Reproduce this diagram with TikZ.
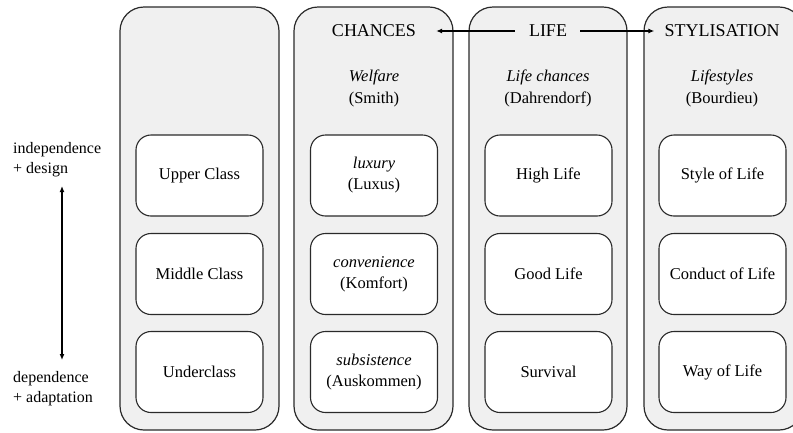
\documentclass[tikz,border=0pt]{standalone}
\usepackage{fontspec}
\setmainfont{Liberation Serif}
\usetikzlibrary{arrows.meta}
\definecolor{colfill}{HTML}{F0F0F0}
\definecolor{edge}{HTML}{2A2A2A}
\tikzset{
  column/.style={draw=edge, line width=1.2pt, fill=colfill, rounded corners=24pt},
  cell/.style={draw=edge, line width=1.1pt, fill=white, rounded corners=15pt,
    minimum width=127pt, minimum height=81pt, align=center, inner sep=0pt,
    font=\fontsize{16.5}{21}\selectfont},
  head/.style={font=\fontsize{18}{22}\selectfont, inner sep=0pt},
  sub/.style={font=\fontsize{16.5}{22}\selectfont, align=center, inner sep=0pt},
  side/.style={font=\fontsize{16}{20}\selectfont, align=left, inner sep=0pt, anchor=west},
  arr/.style={line width=1.1pt, draw=black, -{Latex[length=6pt,width=5pt]}},
  darr/.style={line width=1.6pt, draw=black, {Latex[length=6pt,width=5pt]}-{Latex[length=6pt,width=5pt]}}
}
\begin{document}
\begin{tikzpicture}[x=1pt,y=-1pt]
\useasboundingbox (0,0) rectangle (793,432);
\begin{scope}
\clip (0,0) rectangle (793,432);
% columns
\draw[column] (120,7) rectangle (279,430);
\draw[column] (294,7) rectangle (453,430);
\draw[column] (469,7) rectangle (627,430);
\draw[column] (644,7) rectangle (803,430);
\end{scope}
% headings
\node[head] (chances) at (374,31) {CHANCES};
\node[head] (life) at (548,31) {LIFE};
\node[head] (styl) at (722,31) {STYLISATION};
\draw[arr, shorten <=14pt, shorten >=20pt] (life.west) -- (chances.east);
\draw[arr, shorten <=13pt, shorten >=10pt] (life.east) -- (styl.west);
% sub headings
\node[sub] (welfare) at (374,88) {\textit{Welfare}\\(Smith)};
\node[sub] (lifech) at (548,88) {\textit{Life chances}\\(Dahrendorf)};
\node[sub] (lifest) at (722,88) {\textit{Lifestyles}\\(Bourdieu)};
% column 1
\node[cell] (upper) at (199.5,175.5) {Upper Class};
\node[cell] (middle) at (199.5,274) {Middle Class};
\node[cell] (under) at (199.5,372) {Underclass};
% column 2
\node[cell] (luxury) at (374,175.5) {\textit{luxury}\\(Luxus)};
\node[cell] (conv) at (374,274) {\textit{convenience}\\(Komfort)};
\node[cell] (subs) at (374,372) {\textit{subsistence}\\(Auskommen)};
% column 3
\node[cell] (high) at (548.5,175.5) {High Life};
\node[cell] (good) at (548.5,274) {Good Life};
\node[cell] (surv) at (548.5,372) {Survival};
% column 4
\node[cell] (style) at (722.5,175.5) {Style of Life};
\node[cell] (conduct) at (722.5,274) {Conduct of Life};
\node[cell] (way) at (722.5,372) {Way of Life};
% side labels
\node[side] (indep) at (13,160) {independence\\+ design};
\node[side] (dep) at (13,389) {dependence\\+ adaptation};
\coordinate (atop) at (62,186);
\coordinate (abot) at (62,360);
\draw[darr] (atop) -- (abot);
\end{tikzpicture}
\end{document}
